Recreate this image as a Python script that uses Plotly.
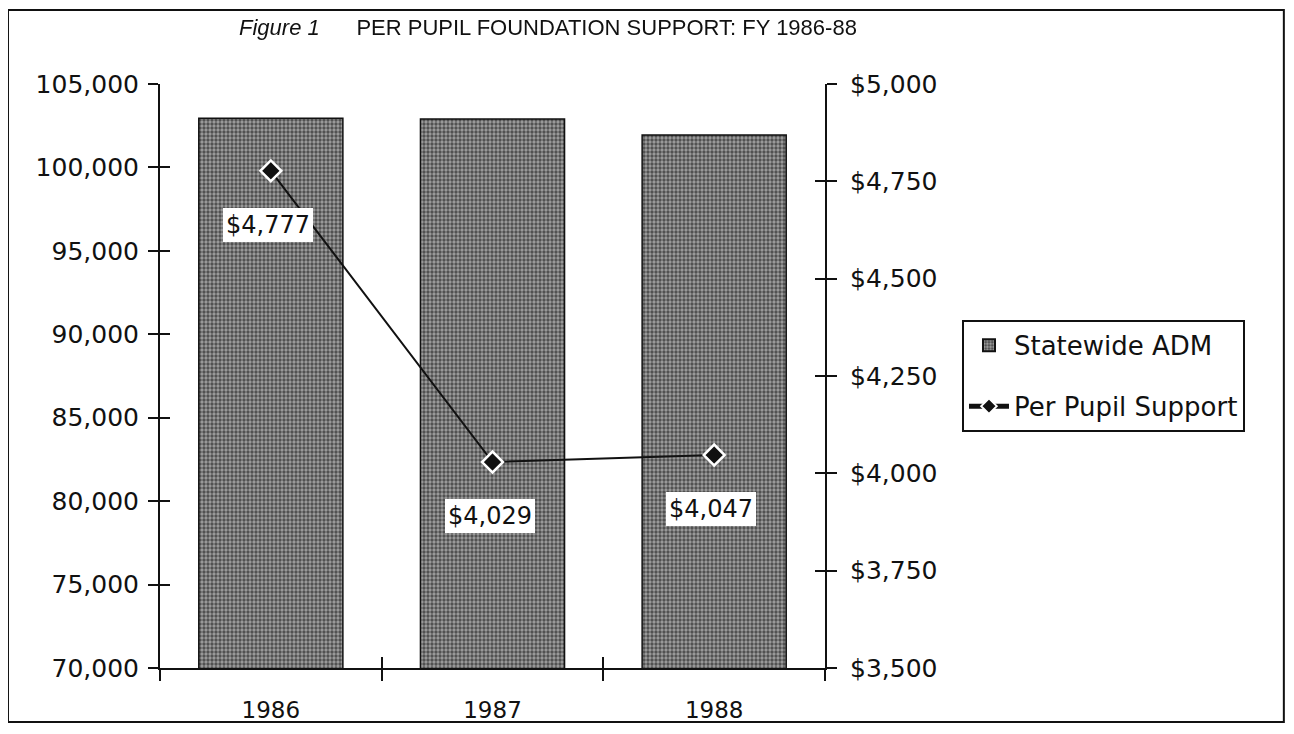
import plotly.graph_objects as go

years = ["1986", "1987", "1988"]
year_index = [0, 1, 2]
adm = [102950, 102900, 101950]
support = [4777, 4029, 4047]
support_labels = ["$4,777", "$4,029", "$4,047"]

left_ticks = [70000, 75000, 80000, 85000, 90000, 95000, 100000, 105000]
left_ticktext = ["70,000", "75,000", "80,000", "85,000", "90,000", "95,000",
                 "100,000", "105,000"]
right_ticks = [3500, 3750, 4000, 4250, 4500, 4750, 5000]
right_ticktext = ["$3,500", "$3,750", "$4,000", "$4,250", "$4,500", "$4,750",
                  "$5,000"]
cat_bounds = [-0.5, 0.5, 1.5, 2.5]

WIDE = "DejaVu Sans, Verdana, sans-serif"
HELV = "Liberation Sans, Arial, sans-serif"
INK = "#111111"

fig = go.Figure()

fig.add_trace(go.Bar(
    x=years, y=adm, name="Statewide ADM", width=0.65, legendgroup="a",
    marker=dict(color="#6a6a6a",
                line=dict(color=INK, width=1.5),
                pattern=dict(shape=".", bgcolor="#4a4a4a", fgcolor="#e8e8e8",
                             size=4, solidity=0.55)),
    xaxis="x", yaxis="y",
))

fig.add_trace(go.Scatter(
    x=years, y=support, name="Per Pupil Support", mode="lines+markers",
    legendgroup="b",
    line=dict(color=INK, width=2),
    marker=dict(symbol="diamond", size=16, color=INK,
                line=dict(color="white", width=2.5)),
    xaxis="x", yaxis="y2",
))

# transparent helpers so the inward tick axes get drawn
fig.add_trace(go.Scatter(x=year_index, y=adm, mode="markers", opacity=0,
                         showlegend=False, hoverinfo="skip",
                         xaxis="x2", yaxis="y3"))
fig.add_trace(go.Scatter(x=year_index, y=support, mode="markers", opacity=0,
                         showlegend=False, hoverinfo="skip",
                         xaxis="x2", yaxis="y4"))

for i, (val, lab) in enumerate(zip(support, support_labels)):
    fig.add_annotation(x=i, y=val, xref="x", yref="y2", text=lab,
                       showarrow=False, yshift=-54, xshift=-3, bgcolor="white",
                       borderwidth=0, borderpad=3,
                       font=dict(family=WIDE, size=24, color=INK))

tickfont = dict(family=WIDE, size=25, color=INK)
xtickfont = dict(family=WIDE, size=23, color=INK)

fig.update_layout(
    width=1278, height=718,
    paper_bgcolor="white", plot_bgcolor="white",
    margin=dict(l=152, r=461, t=76, b=58),
    title=dict(text="<i>Figure 1</i>      PER PUPIL FOUNDATION SUPPORT: FY 1986-88",
               x=0.4225, xanchor="center", y=0.9735, yanchor="middle",
               font=dict(family=HELV, size=22, color=INK)),
    xaxis=dict(type="category", showline=True, linecolor=INK, linewidth=2,
               ticks="outside", tickson="boundaries", ticklen=11,
               tickcolor=INK, tickwidth=2, tickfont=xtickfont,
               showgrid=False, range=[-0.5, 2.5], ticklabelstandoff=20,
               automargin=False),
    xaxis2=dict(type="linear", range=[-0.5, 2.5], tickvals=cat_bounds,
                overlaying="x", anchor="y3", side="bottom",
                showticklabels=False, ticks="inside", ticklen=11,
                tickcolor=INK, tickwidth=2, showgrid=False, zeroline=False,
                showline=False, automargin=False),
    yaxis=dict(range=[70000, 105000], tickvals=left_ticks,
               ticktext=left_ticktext,
               showline=True, linecolor=INK, linewidth=2, ticks="outside",
               ticklen=10, tickcolor=INK, tickwidth=2, tickfont=tickfont,
               showgrid=False, zeroline=False, ticklabelstandoff=4,
               automargin=False),
    yaxis2=dict(range=[3500, 5000], tickvals=right_ticks,
                ticktext=right_ticktext, overlaying="y", side="right",
                showline=True, linecolor=INK, linewidth=2, ticks="outside",
                ticklen=10, tickcolor=INK, tickwidth=2, tickfont=tickfont,
                showgrid=False, zeroline=False, ticklabelstandoff=8,
                automargin=False),
    yaxis3=dict(range=[70000, 105000], tickvals=left_ticks, overlaying="y",
                anchor="x2", side="left", showticklabels=False,
                ticks="inside", ticklen=10, tickcolor=INK, tickwidth=2,
                showgrid=False, zeroline=False, showline=False,
                automargin=False),
    yaxis4=dict(range=[3500, 5000], tickvals=right_ticks, overlaying="y",
                anchor="x2", side="right", showticklabels=False,
                ticks="inside", ticklen=10, tickcolor=INK, tickwidth=2,
                showgrid=False, zeroline=False, showline=False,
                automargin=False),
    legend=dict(x=1.206, y=0.596, xanchor="left", yanchor="top",
                bordercolor=INK, borderwidth=2, bgcolor="white",
                font=dict(family=WIDE, size=26, color=INK),
                itemsizing="constant", tracegroupgap=24, itemwidth=40,
                traceorder="grouped"),
    showlegend=True,
)

fig.add_shape(type="rect", xref="paper", yref="paper",
              x0=-0.2286, x1=1.69, y0=-0.0925, y1=1.1267,
              line=dict(color=INK, width=2), fillcolor="rgba(0,0,0,0)",
              layer="below")

fig.write_html("out.html")
